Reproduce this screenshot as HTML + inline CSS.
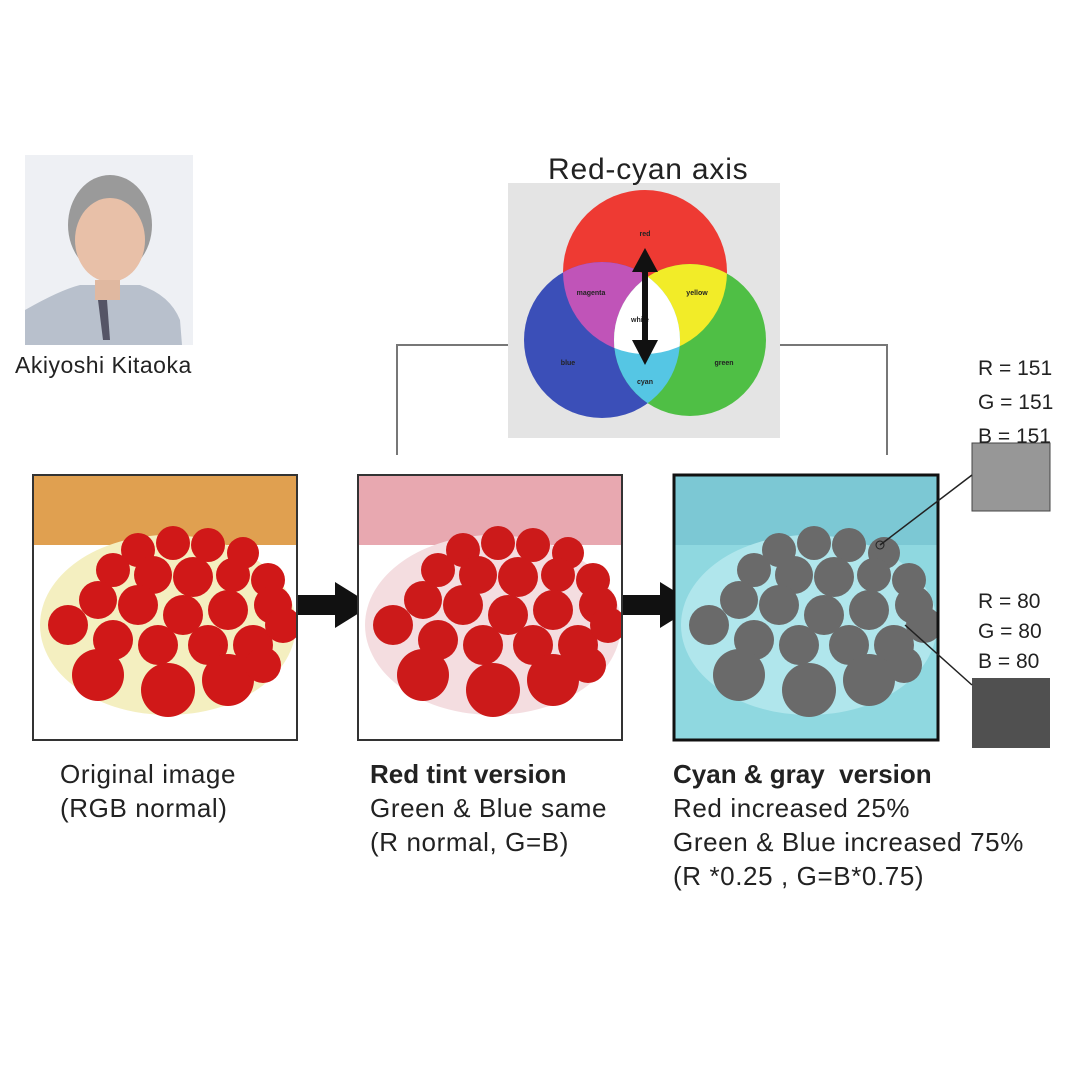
<!DOCTYPE html>
<html><head><meta charset="utf-8"><style>
body{margin:0;background:#fff;}
#root{position:relative;width:1080px;height:1080px;overflow:hidden;font-family:"Liberation Sans",sans-serif;color:#222;}
.t{position:absolute;white-space:nowrap;}
.cap{font-size:26px;letter-spacing:0.6px;line-height:34px;}
</style></head><body>
<div id="root">
<svg width="1080" height="1080" style="position:absolute;left:0;top:0">
<defs>
<clipPath id="cR"><circle cx="645" cy="272" r="82"/></clipPath>
<clipPath id="cB"><circle cx="602" cy="340" r="78"/></clipPath>
<clipPath id="cG"><circle cx="690" cy="340" r="76"/></clipPath>
<clipPath id="p1"><rect x="33" y="475" width="264" height="265"/></clipPath>
<clipPath id="p2"><rect x="358" y="475" width="264" height="265"/></clipPath>
<clipPath id="p3"><rect x="674" y="475" width="264" height="265"/></clipPath>
</defs>
<g>
<rect x="25" y="155" width="168" height="190" fill="#eef0f4"/>
<path d="M25 345 L25 310 Q60 290 80 285 L140 285 Q170 295 180 320 L182 345 Z" fill="#b8c0cc"/>
<ellipse cx="110" cy="225" rx="42" ry="50" fill="#9a9a9a"/>
<ellipse cx="110" cy="240" rx="35" ry="42" fill="#e8c0a8"/>
<rect x="95" y="280" width="25" height="20" fill="#e0b8a0"/>
<path d="M98 300 L103 340 L110 340 L107 300Z" fill="#556"/>
</g>
<path d="M397 455 V345 H510" stroke="#777" stroke-width="2" fill="none"/>
<path d="M780 345 H887 V455" stroke="#777" stroke-width="2" fill="none"/>
<g>
<rect x="508" y="183" width="272" height="255" fill="#e4e4e4"/>
<circle cx="645" cy="272" r="82" fill="#ee3a33"/>
<circle cx="602" cy="340" r="78" fill="#3b4fb8"/>
<circle cx="690" cy="340" r="76" fill="#4fbf45"/>
<g clip-path="url(#cR)"><circle cx="602" cy="340" r="78" fill="#c054b8"/><circle cx="690" cy="340" r="76" fill="#f2ec28"/></g>
<g clip-path="url(#cB)"><circle cx="690" cy="340" r="76" fill="#55c6e4"/></g>
<g clip-path="url(#cB)"><g clip-path="url(#cG)"><circle cx="645" cy="272" r="82" fill="#ffffff"/></g></g>
<g font-size="7" font-weight="bold" fill="#222" text-anchor="middle">
<text x="645" y="236">red</text><text x="591" y="295">magenta</text><text x="697" y="295">yellow</text>
<text x="640" y="322">white</text><text x="568" y="365">blue</text><text x="724" y="365">green</text><text x="645" y="384">cyan</text></g>
<line x1="645" y1="265" x2="645" y2="345" stroke="#111" stroke-width="6"/>
<polygon points="645,248 632,272 658,272" fill="#111"/>
<polygon points="645,365 632,340 658,340" fill="#111"/>
</g>
<polygon points="297,595 335,595 335,582 372,605 335,628 335,615 297,615" fill="#111"/>
<polygon points="622,595 660,595 660,582 697,605 660,628 660,615 622,615" fill="#111"/>
<g id="panels"></g>
<rect x="972" y="443" width="78" height="68" fill="#979797" stroke="#444"/>
<rect x="972" y="678" width="78" height="70" fill="#505050"/>
<line x1="880" y1="545" x2="972" y2="475" stroke="#222" stroke-width="1.5"/>
<circle cx="880" cy="545" r="4" fill="none" stroke="#222"/>
<line x1="905" y1="625" x2="972" y2="685" stroke="#222" stroke-width="1.5"/>
</svg>
<div class="t" style="left:15px;top:352px;font-size:23px;letter-spacing:0.5px">Akiyoshi Kitaoka</div>
<div class="t" style="left:548px;top:153px;font-size:30px;letter-spacing:0.8px">Red-cyan axis</div>
<div class="t" style="left:978px;top:352px;font-size:21px;line-height:34px">R = 151<br>G = 151<br>B = 151</div>
<div class="t" style="left:978px;top:587px;font-size:21px;line-height:30px">R = 80<br>G = 80<br>B = 80</div>
<div class="t cap" style="left:60px;top:757px">Original image<br>(RGB normal)</div>
<div class="t cap" style="left:370px;top:757px"><b style="letter-spacing:0">Red tint version</b><br>Green &amp; Blue same<br>(R normal, G=B)</div>
<div class="t cap" style="left:673px;top:757px"><b style="letter-spacing:0">Cyan &amp; gray&nbsp; version</b><br>Red increased 25%<br>Green &amp; Blue increased 75%<br>(R *0.25 , G=B*0.75)</div>
</div>
<script>
const berries=[[100,45,17],[135,38,17],[170,40,17],[205,48,16],[75,65,17],[115,70,19],[155,72,20],[195,70,17],[230,75,17],[60,95,19],[100,100,20],[145,110,20],[190,105,20],[235,100,19],[30,120,20],[75,135,20],[120,140,20],[170,140,20],[215,140,20],[245,120,18],[60,170,26],[130,185,27],[190,175,26],[225,160,18]];
const panels=[{x:33,clip:'p1',bg:'#fff',wood:'#e0a050',plate:'#f4efc0',berry:'#d01818',frame:'#333',fw:2,name:'original-image'},
{x:358,clip:'p2',bg:'#fff',wood:'#e8a8b0',plate:'#f4dde0',berry:'#cc1a1a',frame:'#333',fw:2,name:'red-tint-image'},
{x:674,clip:'p3',bg:'#8fd8e0',wood:'#7cc8d4',plate:'#b0e6ec',berry:'#6a6a6a',frame:'#111',fw:3,name:'cyan-gray-image'}];
const NS='http://www.w3.org/2000/svg';
const host=document.getElementById('panels');
function mk(t,a,p){const e=document.createElementNS(NS,t);for(const k in a)e.setAttribute(k,a[k]);p.appendChild(e);return e;}
panels.forEach(p=>{
const g=mk('g',{'clip-path':'url(#'+p.clip+')'},host);


mk('rect',{x:p.x,y:475,width:264,height:265,fill:p.bg},g);
mk('rect',{x:p.x,y:475,width:264,height:70,fill:p.wood},g);
mk('ellipse',{cx:p.x+135,cy:475+150,rx:128,ry:90,fill:p.plate},g);
berries.forEach(b=>{mk('circle',{cx:p.x+b[0]+5,cy:475+b[1]+30,r:b[2],fill:p.berry},g);});
mk('rect',{x:p.x,y:475,width:264,height:265,fill:'none',stroke:p.frame,'stroke-width':p.fw},host);
});
</script>
</body></html>
